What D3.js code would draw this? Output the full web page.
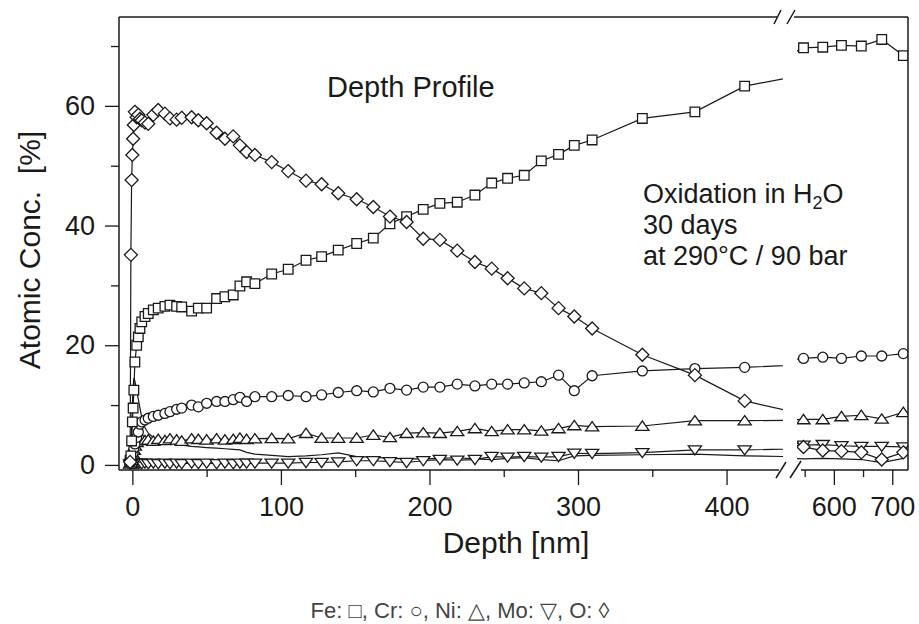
<!DOCTYPE html>
<html>
<head>
<meta charset="utf-8">
<script src="https://cdn.jsdelivr.net/npm/d3@7"></script>
<style>
  body { margin: 0; background: #fff; }
  text { font-family: "Liberation Sans", Arial, sans-serif; fill: #1a1a1a; }
</style>
</head>
<body>
<div id="chart"></div>
<script>
// depth values [nm] shared by all series (left part 0-438, right part after the break)
const depth = [-1.5, -1, -0.5, 0, 0.5, 1, 1.7, 2.9, 4, 5.1, 6.3, 8.5, 10.7, 14.1, 17.4, 21.9, 25.3, 29.8, 33.2, 39.9,
  44.4, 50, 56.7, 62.3, 67.9, 72.4, 76.9, 82.5, 93.8, 104.9, 116.9, 127.4, 138.6, 151, 162.2, 173.4, 184.6, 195.8, 207, 218.7,
  230.6, 241.9, 252.6, 263.8, 275.3, 286.9, 297.5, 309.5, 343.3, 378.7, 412.2, 548, 581, 613, 647, 682, 719];

// atomic concentration [%]
const fe = [0.8, 1.5, 4, 7.2, 9.5, 12.5, 17.2, 20, 21.4, 22.8, 23.9, 24.8, 25.3, 25.9, 26.2, 26.5, 26.7, 26.5, 26.4, 25.7,
  26.2, 26.2, 27.8, 28.1, 28.4, 29.9, 30.6, 30.3, 31.9, 32.7, 34.2, 34.8, 35.9, 37, 37.9, 40.3, 41.5, 42.7, 43.7, 43.9,
  45.1, 47.1, 47.9, 48.4, 50.8, 51.9, 53.4, 54.3, 57.9, 59, 63.3, 69.7, 69.8, 70.1, 70, 71.1, 68.4];
const cr = [0.3, 0.5, 1, 1.5, 2, 2.8, 3.5, 4.6, 5.5, 6.8, 7.2, 7.5, 7.8, 8.1, 8.3, 8.6, 8.9, 9.3, 9.5, 10,
  9.7, 10.3, 10.6, 10.6, 10.9, 11.3, 10.6, 11.4, 11.4, 11.6, 11.4, 11.7, 12.1, 12.4, 12.2, 12.8, 12.5, 13, 13, 13.5,
  13.2, 13.5, 13.5, 13.7, 13.9, 15, 12.4, 14.9, 15.7, 16.1, 16.3, 17.8, 18, 17.8, 18.2, 18.2, 18.6];
const ni = [0.2, 0.4, 0.8, 1.2, 1.8, 2.5, 3.2, 3.8, 4.3, 4.6, 4.4, 4.1, 4.2, 4, 4.3, 4.1, 4.4, 4.2, 4, 4.4,
  4.3, 4.2, 4.4, 4.2, 4.3, 4.5, 4.3, 4.4, 4.45, 4.4, 5.3, 4.5, 4.5, 4.5, 5, 4.6, 5.3, 5.4, 5.3, 5.6,
  6.1, 5.6, 5.9, 5.9, 5.7, 6.1, 6.6, 6.4, 6.5, 7.4, 7.4, 7.6, 7.6, 8.1, 8.3, 7.7, 8.8];
const mo = [0.1, 0.2, 0.3, 0.4, 0.3, 0.3, 0.2, 0.3, 0.2, 0.3, 0.2, 0.3, 0.2, 0.3, 0.2, 0.3, 0.2, 0.3, 0.2, 0.3,
  0.2, 0.3, 0.2, 0.3, 0.2, 0.3, 0.3, 0.3, 0.3, 0.3, 0.4, 0.4, 0.5, 0.7, 0.7, 0.55, 0.4, 0.7, 0.9, 0.8,
  0.9, 1.4, 1.3, 1.4, 1.3, 1.4, 1.95, 1.9, 2.05, 2.5, 2.5, 3.3, 3.4, 3.2, 3.1, 3.1, 3];
const ox = [0.5, 35.1, 47.6, 51.8, 54.5, 56.8, 59, 58.1, 58.5, 57.8, 57.6, 57.2, 57, 58.5, 59.3, 58.7, 57.9, 57.7, 58, 58.1,
  57.6, 57.1, 55.5, 54.5, 54.9, 53.4, 52.3, 51.8, 50.6, 49.1, 47.5, 46.9, 45.4, 44.4, 43.1, 41.5, 40.6, 37.8, 37.6, 35.8,
  33.9, 32.8, 31.2, 29.5, 28.7, 26.2, 24.8, 22.8, 18.4, 15, 10.7, 3, 2.4, 2.3, 2.1, 0.9, 2.1];
// unmarked trace near the bottom
const other = [0.5, 2, 6, 10, 13, 14.5, 14, 12.5, 11, 9.5, 8, 6.2, 5.3, 4.6, 4.2, 3.9, 3.7, 3.5, 3.3, 3.1,
  3, 2.9, 2.8, 2.7, 2.6, 2.5, 2.1, 1.8, 1.6, 1.4, 1.5, 1.7, 2, 1.4, 1.3, 1.1, 1, 1, 1.1, 1.2,
  1, 0.9, 1.1, 1.2, 0.9, 0.7, 1.5, 1.6, 1.7, 1.8, 1.5, 1, 1.1, 1, 0.9, 0.4, 1.1];

const yTicks = [0, 20, 40, 60];
const yMinorTicks = [10, 30, 50, 70];
const xTicksLeft = [0, 100, 200, 300, 400];
const xMinorLeft = [50, 150, 250, 350];
const xTicksRight = [600, 700];
const xMinorRight = [550, 650];

const width = 919, height = 624;
const frame = {left: 119, top: 17, right: 908, bottom: 470};

var svg = d3.select("#chart").append("svg")
    .attr("width", width)
    .attr("height", height);

// broken x axis: two scales
var xLeft = d3.scaleLinear().domain([-9, 438]).range([frame.left, 783]);
var xRight = d3.scaleLinear().domain([542, 728]).range([800, frame.right + 0.6]);
var y = d3.scaleLinear().domain([-0.85, 74.85]).range([frame.bottom, frame.top]);

var defs = svg.append("defs");
defs.append("clipPath").attr("id", "clipL").append("rect")
    .attr("x", frame.left).attr("y", frame.top)
    .attr("width", 783 - frame.left).attr("height", frame.bottom - frame.top);
defs.append("clipPath").attr("id", "clipR").append("rect")
    .attr("x", 797).attr("y", frame.top)
    .attr("width", frame.right - 797).attr("height", frame.bottom - frame.top);

// marker shapes
const triUp = {draw: function(ctx, size) {
  var w = Math.sqrt(size);
  ctx.moveTo(0, -w * 0.42); ctx.lineTo(w * 0.55, w * 0.36); ctx.lineTo(-w * 0.55, w * 0.36); ctx.closePath();
}};
const triDown = {draw: function(ctx, size) {
  var w = Math.sqrt(size);
  ctx.moveTo(0, w * 0.42); ctx.lineTo(w * 0.55, -w * 0.34); ctx.lineTo(-w * 0.55, -w * 0.34); ctx.closePath();
}};
const diamond = {draw: function(ctx, size) {
  var h = Math.sqrt(size) / 2;
  ctx.moveTo(0, -h); ctx.lineTo(h, 0); ctx.lineTo(0, h); ctx.lineTo(-h, 0); ctx.closePath();
}};

var series = [
  {name: "other", values: other, symbol: null, size: 0},
  {name: "Mo", values: mo, symbol: triDown, size: 144},
  {name: "Ni", values: ni, symbol: triUp, size: 144},
  {name: "Cr", values: cr, symbol: d3.symbolCircle, size: 78},
  {name: "Fe", values: fe, symbol: d3.symbolSquare, size: 92},
  {name: "O", values: ox, symbol: diamond, size: 170}
];

var segments = [
  {x: xLeft, clip: "url(#clipL)", keep: function(d) { return d <= 438; }},
  {x: xRight, clip: "url(#clipR)", keep: function(d) { return d >= 542; }}
];

// lines
segments.forEach(function(seg) {
  var g = svg.append("g").attr("clip-path", seg.clip);
  series.forEach(function(s) {
    var pts = depth.map(function(d, i) { return [d, s.values[i]]; });
    g.append("path")
      .attr("fill", "none")
      .attr("stroke", "#1a1a1a")
      .attr("stroke-width", 1.2)
      .attr("d", d3.line()
        .x(function(d) { return seg.x(d[0]); })
        .y(function(d) { return y(d[1]); })(pts));
  });
});

// markers
segments.forEach(function(seg) {
  var g = svg.append("g").attr("clip-path", seg.clip);
  series.forEach(function(s) {
    if (!s.symbol) return;
    var pts = depth.map(function(d, i) { return [d, s.values[i]]; })
      .filter(function(p) { return seg.keep(p[0]); });
    g.selectAll(null).data(pts).enter().append("path")
      .attr("transform", function(d) { return "translate(" + seg.x(d[0]) + "," + y(d[1]) + ")"; })
      .attr("d", d3.symbol().type(s.symbol).size(s.size))
      .attr("fill", "#fff")
      .attr("stroke", "#1a1a1a")
      .attr("stroke-width", 1.3);
  });
});

// axes
function styleAxis(g) {
  g.select(".domain").remove();
  g.selectAll("line").attr("stroke", "#1a1a1a").attr("stroke-width", 1.3);
  g.selectAll("text").attr("font-size", 27).attr("fill", "#1a1a1a")
    .attr("font-family", "'Liberation Sans', Arial, sans-serif");
}

svg.append("g").attr("transform", "translate(0," + frame.bottom + ")")
  .call(d3.axisBottom(xLeft).tickValues(xTicksLeft).tickSize(15).tickPadding(12))
  .call(styleAxis);
svg.append("g").attr("transform", "translate(0," + frame.bottom + ")")
  .call(d3.axisBottom(xLeft).tickValues(xMinorLeft).tickSize(7).tickFormat(""))
  .call(styleAxis);
svg.append("g").attr("transform", "translate(0," + frame.bottom + ")")
  .call(d3.axisBottom(xRight).tickValues(xTicksRight).tickSize(15).tickPadding(12))
  .call(styleAxis);
svg.append("g").attr("transform", "translate(0," + frame.bottom + ")")
  .call(d3.axisBottom(xRight).tickValues(xMinorRight).tickSize(7).tickFormat(""))
  .call(styleAxis);
svg.append("g").attr("transform", "translate(" + frame.left + ",0)")
  .call(d3.axisLeft(y).tickValues(yTicks).tickSize(14).tickPadding(10))
  .call(styleAxis);
svg.append("g").attr("transform", "translate(" + frame.left + ",0)")
  .call(d3.axisLeft(y).tickValues(yMinorTicks).tickSize(8).tickFormat(""))
  .call(styleAxis);

// frame with the axis breaks
var frameLines = [
  [frame.left, frame.top, frame.left, frame.bottom],
  [frame.left, frame.top, 777, frame.top],
  [794, frame.top, frame.right, frame.top],
  [frame.right, frame.top, frame.right, frame.bottom],
  [frame.left, frame.bottom, 779, frame.bottom],
  [801, frame.bottom, frame.right, frame.bottom],
  // break marks
  [774, frame.top + 7, 781, frame.top - 7],
  [787, frame.top + 7, 795, frame.top - 7],
  [776, frame.bottom + 8, 786, frame.bottom - 8],
  [790, frame.bottom + 8, 801, frame.bottom - 9]
];
svg.append("g").selectAll("line").data(frameLines).enter().append("line")
  .attr("x1", function(d) { return d[0]; }).attr("y1", function(d) { return d[1]; })
  .attr("x2", function(d) { return d[2]; }).attr("y2", function(d) { return d[3]; })
  .attr("stroke", "#1a1a1a").attr("stroke-width", 1.5);

// titles
svg.append("text")
  .attr("x", 516).attr("y", 553)
  .attr("text-anchor", "middle")
  .attr("font-size", 30)
  .text("Depth [nm]");

svg.append("text")
  .attr("transform", "translate(40,250) rotate(-90)")
  .attr("text-anchor", "middle")
  .attr("font-size", 30)
  .attr("xml:space", "preserve")
  .text("Atomic Conc.  [%]");

svg.append("text")
  .attr("x", 327).attr("y", 97)
  .attr("font-size", 29)
  .text("Depth Profile");

// annotation block, one text per line
var note = svg.append("text").attr("x", 643).attr("y", 203).attr("font-size", 27);
note.append("tspan").text("Oxidation in H");
note.append("tspan").attr("font-size", 18).attr("dy", 6).text("2");
note.append("tspan").attr("dy", -6).text("O");
svg.append("text").attr("x", 643).attr("y", 234).attr("font-size", 27).text("30 days");
svg.append("text").attr("x", 643).attr("y", 265).attr("font-size", 27).text("at 290°C / 90 bar");

// element legend under the chart
svg.append("text")
  .attr("x", 460).attr("y", 618)
  .attr("text-anchor", "middle")
  .attr("font-size", 22)
  .style("fill", "#444")
  .text("Fe: \u25A1, Cr: \u25CB, Ni: \u25B3, Mo: \u25BD, O: \u25CA");
</script>
</body>
</html>
